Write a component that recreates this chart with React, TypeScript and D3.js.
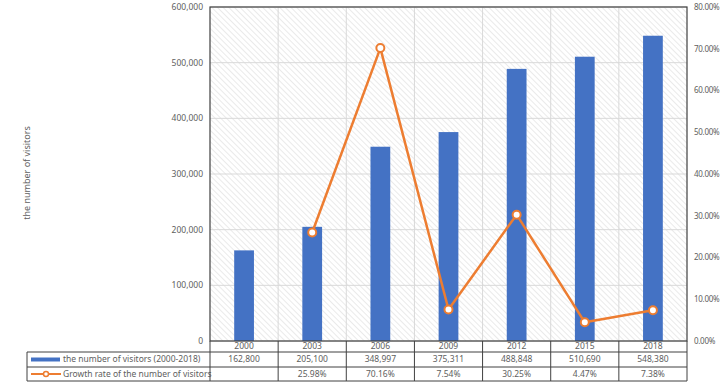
import * as d3 from 'd3';

const years = ['2000', '2003', '2006', '2009', '2012', '2015', '2018'];
const visitors = [162800, 205100, 348997, 375311, 488848, 510690, 548380];
const growth: (number | null)[] = [null, 25.98, 70.16, 7.54, 30.25, 4.47, 7.38];
const leftTicks = [0, 100000, 200000, 300000, 400000, 500000, 600000];
const rightTicks = [0, 10, 20, 30, 40, 50, 60, 70, 80];
const barName = 'the number of visitors (2000-2018)';
const lineName = 'Growth rate of the number of visitors';
const yTitle = 'the number of visitors';

const W = 720;
const H = 382;
const left = 210;
const right = 687;
const top = 7;
const bottom = 341;
const font = '"Noto Sans", "DejaVu Sans", sans-serif';
const textCol = '#606060';
const blue = '#4472C4';
const orange = '#ED7D31';

const App = () => {
  const x = d3.scaleBand<string>().domain(years).range([left, right]).padding(0);
  const y = d3.scaleLinear().domain([0, 600000]).range([bottom, top]);
  const y2 = d3.scaleLinear().domain([0, 80]).range([bottom, top]);
  const bw = x.bandwidth() * 0.29;
  const fmt = d3.format(',');

  const pts = years
    .map((yr, i) => ({ yr, v: growth[i] }))
    .filter((d) => d.v !== null) as { yr: string; v: number }[];
  const line = d3
    .line<{ yr: string; v: number }>()
    .x((d) => (x(d.yr) as number) + x.bandwidth() / 2)
    .y((d) => y2(d.v));

  const row1 = [352, 367];
  const row2 = [367, 381];
  const tableLeft = 27;

  return (
    <svg
      width={W}
      height={H}
      style={{ position: 'absolute', left: 0, top: 0, display: 'block' }}
      fontFamily={font}
    >
      <defs>
        <pattern id="hatch" width="4" height="4" patternUnits="userSpaceOnUse" patternTransform="rotate(-45)">
          <line x1="0" y1="0" x2="0" y2="4" stroke="#d6d6d6" strokeWidth="1" />
        </pattern>
      </defs>
      <rect x={0} y={0} width={W} height={H} fill="#fff" />
      <rect x={left} y={top} width={right - left} height={bottom - top} fill="url(#hatch)" />

      {/* gridlines */}
      {leftTicks.map((t) => (
        <line key={'h' + t} x1={left} x2={right} y1={y(t)} y2={y(t)} stroke="#d9d9d9" strokeWidth={1} />
      ))}
      {years.slice(1).map((yr) => (
        <line key={'v' + yr} x1={x(yr)} x2={x(yr)} y1={top} y2={bottom} stroke="#d9d9d9" strokeWidth={1} />
      ))}

      {/* bars */}
      {years.map((yr, i) => (
        <rect
          key={'b' + yr}
          x={(x(yr) as number) + (x.bandwidth() - bw) / 2}
          y={y(visitors[i])}
          width={bw}
          height={bottom - y(visitors[i])}
          fill={blue}
        />
      ))}

      {/* line */}
      <path d={line(pts) || ''} fill="none" stroke={orange} strokeWidth={2.5} strokeLinejoin="round" />
      {pts.map((d) => (
        <circle
          key={'c' + d.yr}
          cx={(x(d.yr) as number) + x.bandwidth() / 2}
          cy={y2(d.v)}
          r={4}
          fill="#fff"
          stroke={orange}
          strokeWidth={2}
        />
      ))}

      {/* plot border */}
      <rect x={left} y={top} width={right - left} height={bottom - top} fill="none" stroke="#404040" strokeWidth={1.2} />

      {/* left axis labels */}
      {leftTicks.map((t) => (
        <text key={'l' + t} x={203} y={y(t)} dy="0.35em" textAnchor="end" fontSize={8.5} fill={textCol}>
          {fmt(t)}
        </text>
      ))}
      {/* right axis labels */}
      {rightTicks.map((t) => (
        <text
          key={'r' + t}
          x={694}
          y={y2(t)}
          dy="0.35em"
          textAnchor="start"
          fontSize={8}
          letterSpacing={-0.3}
          fill={textCol}
        >
          {t.toFixed(2) + '%'}
        </text>
      ))}

      <text transform={`translate(30, 173) rotate(-90)`} textAnchor="middle" fontSize={9} fill={textCol}>
        {yTitle}
      </text>

      {/* data table */}
      {years.map((yr) => (
        <text
          key={'t' + yr}
          x={(x(yr) as number) + x.bandwidth() / 2}
          y={(bottom + row1[0]) / 2}
          dy="0.35em"
          textAnchor="middle"
          fontSize={8.5}
          fill={textCol}
        >
          {yr}
        </text>
      ))}
      {years.map((yr, i) => (
        <text
          key={'t1' + yr}
          x={(x(yr) as number) + x.bandwidth() / 2}
          y={(row1[0] + row1[1]) / 2}
          dy="0.35em"
          textAnchor="middle"
          fontSize={8.5}
          fill={textCol}
        >
          {fmt(visitors[i])}
        </text>
      ))}
      {years.map((yr, i) =>
        growth[i] === null ? null : (
          <text
            key={'t2' + yr}
            x={(x(yr) as number) + x.bandwidth() / 2}
            y={(row2[0] + row2[1]) / 2}
            dy="0.35em"
            textAnchor="middle"
            fontSize={8.5}
            fill={textCol}
          >
            {(growth[i] as number).toFixed(2) + '%'}
          </text>
        )
      )}

      {/* legend keys */}
      <line x1={31} x2={60} y1={(row1[0] + row1[1]) / 2} y2={(row1[0] + row1[1]) / 2} stroke={blue} strokeWidth={4} />
      <text x={63} y={(row1[0] + row1[1]) / 2} dy="0.35em" fontSize={8.5} fill={textCol}>
        {barName}
      </text>
      <line x1={31} x2={61} y1={(row2[0] + row2[1]) / 2} y2={(row2[0] + row2[1]) / 2} stroke={orange} strokeWidth={2} />
      <circle cx={46} cy={(row2[0] + row2[1]) / 2} r={2.5} fill="#fff" stroke={orange} strokeWidth={1.5} />
      <text x={63} y={(row2[0] + row2[1]) / 2} dy="0.35em" fontSize={8.5} fill={textCol}>
        {lineName}
      </text>

      {/* table grid lines */}
      <g stroke="#404040" strokeWidth={1} fill="none">
        <line x1={tableLeft} x2={right} y1={row1[0]} y2={row1[0]} />
        <line x1={tableLeft} x2={right} y1={row2[0]} y2={row2[0]} />
        <line x1={tableLeft} x2={right} y1={row2[1]} y2={row2[1]} />
        <line x1={tableLeft} x2={tableLeft} y1={row1[0]} y2={row2[1]} />
        {years.map((yr) => (
          <line key={'tv' + yr} x1={x(yr)} x2={x(yr)} y1={bottom} y2={row2[1]} />
        ))}
        <line x1={right} x2={right} y1={bottom} y2={row2[1]} />
      </g>
    </svg>
  );
};

export default App;
